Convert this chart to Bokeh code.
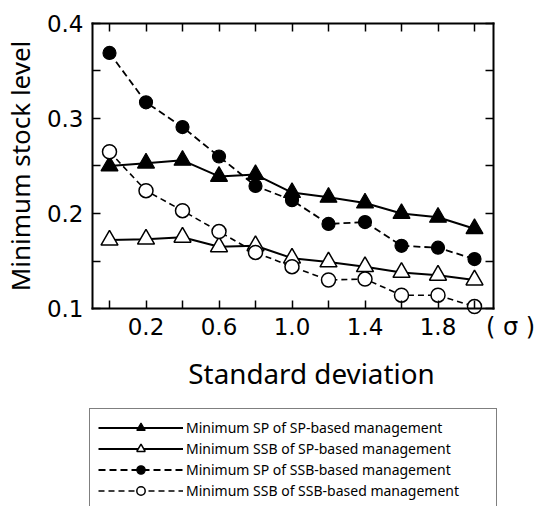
from bokeh.plotting import figure
from bokeh.models import (Range1d, LinearAxis, FixedTicker, Legend, LegendItem,
                          Label, CustomJSTickFormatter, PrintfTickFormatter)
from bokeh.embed import file_html
from bokeh.resources import INLINE

# ---- data ----
sigma = [0.0, 0.2, 0.4, 0.6, 0.8, 1.0, 1.2, 1.4, 1.6, 1.8, 2.0]
sp_of_sp = [0.250, 0.253, 0.256, 0.239, 0.241, 0.222, 0.217, 0.211, 0.200, 0.196, 0.184]
ssb_of_sp = [0.172, 0.173, 0.175, 0.165, 0.166, 0.153, 0.149, 0.144, 0.138, 0.135, 0.130]
sp_of_ssb = [0.369, 0.317, 0.291, 0.260, 0.229, 0.214, 0.189, 0.191, 0.166, 0.164, 0.152]
ssb_of_ssb = [0.265, 0.224, 0.203, 0.181, 0.159, 0.144, 0.130, 0.131, 0.114, 0.114, 0.102]

series_labels = [
    "Minimum SP of SP-based management",
    "Minimum SSB of SP-based management",
    "Minimum SP of SSB-based management",
    "Minimum SSB of SSB-based management",
]

x_major_ticks = [0.2, 0.6, 1.0, 1.4, 1.8]
x_minor_ticks = [0.0, 0.4, 0.8, 1.2, 1.6, 2.0]
y_major_ticks = [0.1, 0.2, 0.3, 0.4]
y_minor_ticks = [0.15, 0.25, 0.35]

x_title = "Standard deviation"
y_title = "Minimum stock level"
x_unit = "( σ )"

# plotting box (data limits of the framed area)
X0, X1 = -0.0932, 2.104
Y0, Y1 = 0.1, 0.4

# ---- figure: frame covers whole canvas, box drawn by fixed axes ----
p = figure(width=539, height=506, output_backend="svg", toolbar_location=None,
           x_range=Range1d(-0.59726, 2.35616), y_range=Range1d(-0.10842, 0.42421),
           x_axis_location=None, y_axis_location=None, min_border=0)
p.grid.visible = False
p.outline_line_color = None
p.background_fill_color = "white"
p.border_fill_color = "white"

tick_font = "DejaVu Sans"


def make_axis(ticks, minor, loc, bounds, show_labels):
    ax = LinearAxis(ticker=FixedTicker(ticks=ticks, minor_ticks=minor),
                    fixed_location=loc, bounds=bounds)
    ax.axis_line_color = "black"
    ax.axis_line_width = 2
    ax.axis_line_cap = "square"
    ax.major_tick_in = 8
    ax.major_tick_out = 0
    ax.minor_tick_in = 8
    ax.minor_tick_out = 0
    ax.major_tick_line_color = "black"
    ax.minor_tick_line_color = "black"
    ax.major_tick_line_width = 1.5
    ax.minor_tick_line_width = 1.5
    if show_labels:
        ax.major_label_text_font = tick_font
        ax.major_label_text_font_size = "23px"
        ax.major_label_text_color = "black"
        ax.major_label_standoff = 9
        ax.formatter = PrintfTickFormatter(format="%.1f")
    else:
        ax.formatter = CustomJSTickFormatter(code="return ''")
        ax.major_label_standoff = 0
    return ax


left = make_axis(y_major_ticks, y_minor_ticks, X0, (Y0, Y1), True)
left.axis_label = y_title
left.axis_label_text_font = "Noto Sans"
left.axis_label_text_font_size = "26px"
left.axis_label_text_font_style = "normal"
left.axis_label_text_color = "black"
left.axis_label_standoff = 6
p.add_layout(left, "left")

bottom = make_axis(x_major_ticks, x_minor_ticks, Y0, (X0, X1), True)
p.add_layout(bottom, "below")
top = make_axis(x_major_ticks, x_minor_ticks, Y1, (X0, X1), False)
p.add_layout(top, "above")
right = make_axis(y_major_ticks, y_minor_ticks, X1, (Y0, Y1), False)
p.add_layout(right, "right")

# ---- series ----
l1 = p.line(sigma, sp_of_sp, line_color="black", line_width=2)
s1 = p.scatter(sigma, sp_of_sp, marker="triangle", size=17, fill_color="black",
               line_color="black", line_width=1.2)
l2 = p.line(sigma, ssb_of_sp, line_color="black", line_width=2)
s2 = p.scatter(sigma, ssb_of_sp, marker="triangle", size=17, fill_color="white",
               line_color="black", line_width=1.5)
l3 = p.line(sigma, sp_of_ssb, line_color="black", line_width=1.8, line_dash="7 4")
s3 = p.scatter(sigma, sp_of_ssb, marker="circle", size=13, fill_color="black",
               line_color="black", line_width=1.2)
l4 = p.line(sigma, ssb_of_ssb, line_color="black", line_width=1.6, line_dash="6 4")
s4 = p.scatter(sigma, ssb_of_ssb, marker="circle", size=14, fill_color="white",
               line_color="black", line_width=1.5)

# ---- titles ----
p.add_layout(Label(x=1.1068, y=0.0316, text=x_title, text_align="center",
                   text_baseline="alphabetic", text_font="Noto Sans",
                   text_font_size="27.8px", text_color="black"))
p.add_layout(Label(x=2.1973, y=0.081, text=x_unit, text_align="center",
                   text_baseline="middle", text_font="DejaVu Sans",
                   text_font_size="24px", text_color="black"))

# ---- legend ----
legend = Legend(
    items=[LegendItem(label=series_labels[0], renderers=[l1, s1]),
           LegendItem(label=series_labels[1], renderers=[l2, s2]),
           LegendItem(label=series_labels[2], renderers=[l3, s3]),
           LegendItem(label=series_labels[3], renderers=[l4, s4])],
    location=(89, -4), glyph_width=85, glyph_height=21, spacing=0,
    padding=8, margin=0, label_standoff=3, label_width=302, label_height=20,
    label_text_font="Noto Sans", label_text_font_size="14px",
    label_text_color="black", border_line_color="black", border_line_width=1.5,
    background_fill_color="white", background_fill_alpha=1.0)
p.add_layout(legend, "center")

open("out.html", "w").write(file_html(p, INLINE))
